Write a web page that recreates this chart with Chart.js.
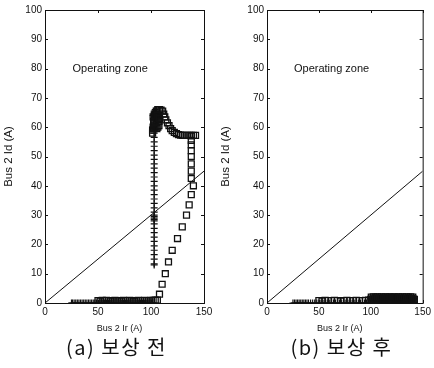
<!DOCTYPE html>
<html>
<head>
<meta charset="utf-8">
<script src="https://cdn.jsdelivr.net/npm/chart.js@4.4.0/dist/chart.umd.min.js"></script>
<style>
  body { margin: 0; background: #fff; width: 434px; height: 368px; position: relative; overflow: hidden; }
  .panel { position: absolute; top: 0; width: 217px; height: 345px; }
  .caption { position: absolute; top: 332px; width: 217px; text-align: center; font: 20px "Noto Sans CJK KR"; letter-spacing: 1.5px; color: #111; }
</style>
</head>
<body>
<div class="panel" style="left:0"><canvas id="before" width="217" height="345"></canvas></div>
<div class="panel" style="left:217px"><canvas id="after" width="217" height="345"></canvas></div>
<div class="caption" style="left:8px">(a) 보상 전</div>
<div class="caption" style="left:233px">(b) 보상 후</div>
<script>
// axis ticks
const irTicks = [0, 50, 100, 150];
const idTicks = [0, 10, 20, 30, 40, 50, 60, 70, 80, 90, 100];

// operating zone boundary
const limitIr = [0, 150];
const limitId = [0, 45];

// (a) before compensation, '+' trace
const plusBeforeIr = [25, 26, 27.5, 29, 30.5, 32, 33.5, 35, 36.5, 38, 39.5, 41, 42.5, 44, 45.5, 47, 48.5, 50, 52, 54, 56, 58, 60, 62, 64, 66, 68, 70, 72, 74, 76, 78, 80, 82, 84, 86, 88, 90, 92, 94, 96, 98, 100, 101.5,
  103, 103, 103, 103, 103, 103, 103, 103, 103, 103, 103, 103, 103, 103, 103, 103, 103, 103, 103, 103, 103, 103, 103, 103, 103, 103, 103, 103, 103, 103, 103, 103, 103, 103, 103, 103,
  102, 102.5, 103.5, 104, 104.5, 102, 103, 104];
const plusBeforeId = [0, 0, 0, 0, 0, 0, 0, 0, 0, 0, 0, 0, 0, 0, 0, 0, 0, 0, 0, 0, 0, 0, 0, 0, 0, 0, 0, 0, 0, 0, 0, 0, 0, 0, 0, 0, 0, 0, 0, 0, 0, 0, 0, 0,
  13, 13.4, 15, 16.5, 18, 19.5, 21, 22.5, 24, 25.5, 27, 28, 28.5, 29, 29.5, 30, 31, 32.5, 34, 35.5, 37, 38.5, 40, 41.5, 43, 44.5, 46, 47.5, 49, 50.5, 52, 53.5, 55, 56.5, 58, 59.5,
  60, 61.5, 63, 64, 65, 64, 65.5, 66];

// (a) before compensation, square trace
const sqBeforeIr = [50, 52, 54, 56, 58, 60, 62, 64, 66, 68, 70, 72, 74, 76, 78, 80, 82, 84, 86, 88, 90, 92, 94, 96, 98, 100, 102, 104,
  106, 108, 110.5, 113.5, 116.5, 120, 125, 129.5, 133.5, 136, 138, 140,
  138, 138, 138, 138, 138, 138, 138, 138,
  101.5, 102, 102.5, 103.5, 105, 106.5, 108, 109.5, 111, 112, 113, 114, 115.5, 117, 118.5, 120, 122, 124, 126,
  128, 130, 132, 134, 136, 138, 140, 142,
  101.5, 102.5, 103.5, 104.5, 105.5, 106.5, 107.5, 102.5, 103.5, 104.5, 105.5, 106.5, 107.5, 102, 103, 104, 105, 106, 107, 108];
const sqBeforeId = [0.8, 0.7, 0.9, 0.8, 0.9, 0.8, 0.7, 0.8, 0.9, 0.8, 0.8, 0.7, 0.9, 0.8, 0.8, 0.9, 0.8, 0.7, 0.8, 0.9, 0.8, 0.8, 0.9, 0.8, 0.8, 0.9, 0.9, 1,
  1, 3, 6.4, 10, 14, 18, 22, 26, 30, 33.5, 37, 40,
  42.5, 45, 47.5, 50, 52, 54, 55.5, 57,
  58, 60, 62, 64, 65.5, 66, 66, 65.8, 65.5, 64.5, 63.5, 62.5, 61.5, 60.5, 59.5, 58.8, 58.2, 57.8, 57.5,
  57.3, 57.2, 57.2, 57.2, 57.2, 57.2, 57.2, 57.2,
  59, 59.5, 60, 60, 59.5, 60, 60.5, 61.5, 62, 62.5, 63, 62.5, 62, 63.5, 64, 64.5, 64.5, 64, 63.5, 63];

// (b) after compensation, '+' trace
const plusAfterIr = [25, 26.5, 28, 29.5, 31, 32.5, 34, 35.5, 37, 38.5, 40, 42, 44, 46, 48, 50, 52, 54, 56, 58, 60, 62, 64, 66, 68, 70, 72, 74, 76, 78, 80, 82, 84, 86, 88, 90, 92, 94, 96, 98,
  100, 101, 102, 103, 104, 105, 106, 107, 108, 109, 110, 111, 112, 113, 114, 115, 116, 117, 118, 119, 120, 121, 122, 123, 124, 125, 126, 127, 128, 129, 130, 131, 132, 133, 134, 135, 136, 137, 138, 139, 140, 141, 142];
const plusAfterId = [0, 0, 0, 0, 0, 0, 0, 0, 0, 0, 0, 0, 0, 0, 0, 0, 0, 0, 0, 0, 0, 0, 0, 0, 0, 0, 0, 0, 0, 0, 0, 0, 0, 0, 0, 0, 0, 0, 0, 0,
  1.5, 1.4, 1.6, 1.5, 1.5, 1.4, 1.6, 1.5, 1.5, 1.4, 1.6, 1.5, 1.5, 1.4, 1.6, 1.5, 1.5, 1.4, 1.6, 1.5, 1.5, 1.4, 1.6, 1.5, 1.5, 1.4, 1.6, 1.5, 1.5, 1.4, 1.6, 1.5, 1.5, 1.4, 1.6, 1.5, 1.5, 1.4, 1.6, 1.5, 1.5, 1.4, 1.5];

// (b) after compensation, square trace
const sqAfterIr = [50, 53, 56, 59, 62, 65, 68, 71, 74, 77, 80, 83, 86, 89, 92, 95, 98,
  100, 101, 102, 103, 104, 105, 106, 107, 108, 109, 110, 111, 112, 113, 114, 115, 116, 117, 118, 119, 120, 121, 122, 123, 124, 125, 126, 127, 128, 129, 130, 131, 132, 133, 134, 135, 136, 137, 138, 139, 140, 141, 142,
  100.5, 102.5, 104.5, 106.5, 108.5, 110.5, 112.5, 114.5, 116.5, 118.5, 120.5, 122.5, 124.5, 126.5, 128.5, 130.5, 132.5, 134.5, 136.5, 138.5, 140.5];
const sqAfterId = [0.8, 0.7, 0.9, 0.8, 0.8, 0.9, 0.8, 0.7, 0.8, 0.9, 0.8, 0.8, 0.9, 0.8, 0.8, 0.9, 1,
  1.2, 1.3, 1.2, 1.3, 1.2, 1.3, 1.2, 1.3, 1.2, 1.3, 1.2, 1.3, 1.2, 1.3, 1.2, 1.3, 1.2, 1.3, 1.2, 1.3, 1.2, 1.3, 1.2, 1.3, 1.2, 1.3, 1.2, 1.3, 1.2, 1.3, 1.2, 1.3, 1.2, 1.3, 1.2, 1.3, 1.2, 1.3, 1.2, 1.3, 1.2, 1.3, 1.2,
  2, 2.1, 2, 2.1, 2, 2.1, 2, 2.1, 2, 2.1, 2, 2.1, 2, 2.1, 2, 2.1, 2, 2.1, 2, 2.1, 2];

const zoneLabel = { text: 'Operating zone', ir: 26, id: 80 };

function pts(xs, ys) {
  return xs.map((x, i) => ({ x: x, y: ys[i] }));
}

// box around the plot, inward tick marks and the zone label
const framePlugin = {
  id: 'frame',
  afterDraw(chart) {
    const { ctx, chartArea: a, scales } = chart;
    const sx = scales.x, sy = scales.y;
    ctx.save();
    ctx.strokeStyle = '#111';
    ctx.lineWidth = 1;
    ctx.strokeRect(a.left + 0.5, a.top + 0.5, a.right - a.left, a.bottom - a.top);
    ctx.beginPath();
    irTicks.forEach(v => {
      const px = Math.round(sx.getPixelForValue(v)) + 0.5;
      ctx.moveTo(px, a.bottom); ctx.lineTo(px, a.bottom - 3);
      ctx.moveTo(px, a.top); ctx.lineTo(px, a.top + 3);
    });
    idTicks.forEach(v => {
      const py = Math.round(sy.getPixelForValue(v)) + 0.5;
      ctx.moveTo(a.left, py); ctx.lineTo(a.left + 3, py);
      ctx.moveTo(a.right, py); ctx.lineTo(a.right - 3, py);
    });
    ctx.stroke();
    ctx.fillStyle = '#111';
    ctx.font = '11px "Liberation Sans", Arial, sans-serif';
    ctx.textBaseline = 'middle';
    ctx.fillText(zoneLabel.text, sx.getPixelForValue(zoneLabel.ir), sy.getPixelForValue(zoneLabel.id));
    ctx.restore();
  }
};

function makeChart(id, plusIr, plusId, sqIr, sqId, yWidth, padRight) {
  const family = '"Liberation Sans", Arial, sans-serif';
  const tickFont = { family: family, size: 10 };
  new Chart(document.getElementById(id), {
    type: 'scatter',
    data: {
      datasets: [
        {
          type: 'line',
          data: pts(limitIr, limitId),
          borderColor: '#111',
          borderWidth: 1,
          pointRadius: 0,
          fill: false
        },
        {
          data: pts(sqIr, sqId),
          pointStyle: 'rect',
          pointRadius: 4.2,
          borderColor: '#111',
          borderWidth: 1.3,
          backgroundColor: 'rgba(255,255,255,0)'
        },
        {
          data: pts(plusIr, plusId),
          pointStyle: 'cross',
          pointRadius: 3.5,
          borderColor: '#111',
          borderWidth: 1.2
        }
      ]
    },
    options: {
      responsive: false,
      animation: false,
      layout: { padding: { top: 10, right: padRight, bottom: 11, left: 0 } },
      plugins: { legend: { display: false }, tooltip: { enabled: false } },
      scales: {
        x: {
          type: 'linear',
          min: 0, max: 150,
          grid: { display: false, drawTicks: false },
          border: { display: false },
          afterBuildTicks: s => { s.ticks = irTicks.map(v => ({ value: v })); },
          afterFit: s => { s.height = 31; },
          ticks: { font: tickFont, color: '#111', padding: 3, maxRotation: 0 },
          title: { display: true, text: 'Bus 2 Ir (A)    ', font: { family: family, size: 9 }, color: '#111', padding: { top: 2, bottom: 0 } }
        },
        y: {
          type: 'linear',
          min: 0, max: 100,
          grid: { display: false, drawTicks: false },
          border: { display: false },
          afterBuildTicks: s => { s.ticks = idTicks.map(v => ({ value: v })); },
          afterFit: s => { s.width = yWidth; },
          ticks: { font: tickFont, color: '#111', padding: 3 },
          title: { display: true, text: 'Bus 2 Id (A)', font: { family: family, size: 11.5 }, color: '#111', padding: { top: 2, bottom: 0 } }
        }
      }
    },
    plugins: [framePlugin]
  });
}

makeChart('before', plusBeforeIr, plusBeforeId, sqBeforeIr, sqBeforeId, 45, 13);
makeChart('after', plusAfterIr, plusAfterId, sqAfterIr, sqAfterId, 50, 10);
</script>
</body>
</html>
